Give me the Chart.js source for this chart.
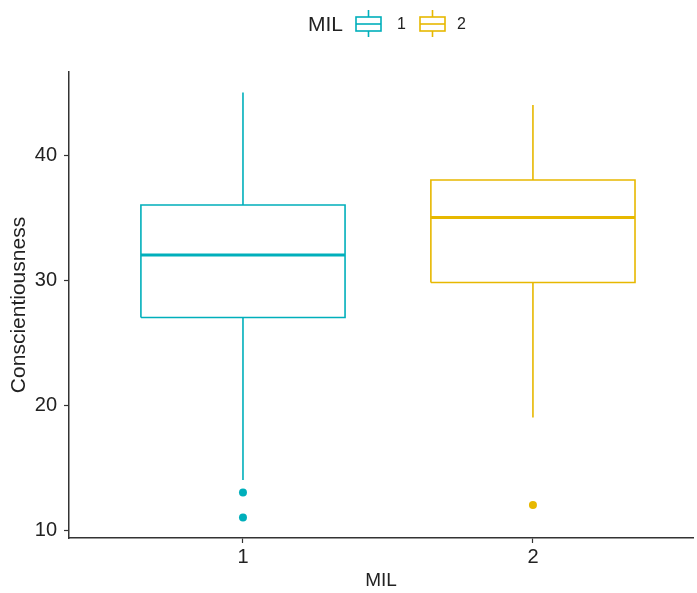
<!DOCTYPE html>
<html>
<head>
<meta charset="utf-8">
<script src="https://cdn.jsdelivr.net/npm/chart.js@4"></script>
<style>
  body { margin: 0; background: #fff; }
  canvas { display: block; }
</style>
</head>
<body>
<canvas id="boxChart" width="697" height="593"></canvas>
<script>
// data
var groups = ['1', '2'];
var groupX = [1, 2];
var lowerWhisker = [14, 19];
var q1 = [27, 29.8];
var median = [32, 35];
var q3 = [36, 38];
var upperWhisker = [45, 44];
var outliers = [[13, 11], [12]];
var yTicks = [10, 20, 30, 40];

var colors = ['#00AFBB', '#E7B800'];
var halfWidth = 0.352;
var fontFamily = '"Liberation Sans", Arial, Helvetica, sans-serif';

// build line datasets for each box
var datasets = [];
groups.forEach(function (g, i) {
    var c = groupX[i];
    var col = colors[i];
    var lineDs = function (pts, width) {
        return {
            data: pts,
            showLine: true,
            borderColor: col,
            borderWidth: width,
            pointRadius: 0,
            fill: false
        };
    };
    // whiskers
    datasets.push(lineDs([{x: c, y: q3[i]}, {x: c, y: upperWhisker[i]}], 1.6));
    datasets.push(lineDs([{x: c, y: lowerWhisker[i]}, {x: c, y: q1[i]}], 1.6));
    // box outline
    datasets.push(lineDs([
        {x: c - halfWidth, y: q1[i]}, {x: c + halfWidth, y: q1[i]},
        {x: c + halfWidth, y: q3[i]}, {x: c - halfWidth, y: q3[i]},
        {x: c - halfWidth, y: q1[i]}
    ], 1.6));
    // median
    datasets.push(lineDs([{x: c - halfWidth, y: median[i]}, {x: c + halfWidth, y: median[i]}], 3));
    // outlier points
    datasets.push({
        data: outliers[i].map(function (v) { return {x: c, y: v}; }),
        showLine: false,
        pointRadius: 4,
        pointBackgroundColor: col,
        pointBorderColor: col,
        pointBorderWidth: 0
    });
});

// legend drawn on top, ggplot style
var legendPlugin = {
    id: 'ggLegend',
    afterDraw: function (chart) {
        var ctx = chart.ctx;
        var cy = 24;
        var left = 308;
        var iconX = [48, 112];
        var labX = [89, 149];
        ctx.save();
        ctx.textBaseline = 'middle';
        ctx.textAlign = 'left';
        ctx.fillStyle = '#222';
        ctx.font = '21px ' + fontFamily;
        ctx.fillText('MIL', left, cy + 1);
        groups.forEach(function (g, i) {
            var x = left + iconX[i];
            ctx.strokeStyle = colors[i];
            ctx.lineWidth = 1.6;
            ctx.beginPath();
            ctx.moveTo(x + 12.5, cy - 14);
            ctx.lineTo(x + 12.5, cy - 7);
            ctx.moveTo(x + 12.5, cy + 7);
            ctx.lineTo(x + 12.5, cy + 13);
            ctx.stroke();
            ctx.strokeRect(x, cy - 7, 25, 14);
            ctx.beginPath();
            ctx.moveTo(x, cy);
            ctx.lineTo(x + 25, cy);
            ctx.stroke();
            ctx.font = '16px ' + fontFamily;
            ctx.fillStyle = '#222';
            ctx.fillText(g, left + labX[i], cy + 1);
        });
        ctx.restore();
    }
};

var ctx = document.getElementById('boxChart').getContext('2d');
var boxChart = new Chart(ctx, {
    type: 'scatter',
    data: { datasets: datasets },
    options: {
        responsive: false,
        animation: false,
        layout: { padding: { top: 72, right: 0, left: 0, bottom: 0 } },
        plugins: {
            legend: { display: false },
            tooltip: { enabled: false }
        },
        scales: {
            x: {
                type: 'linear',
                min: 0.4,
                max: 2.552,
                afterBuildTicks: function (scale) {
                    scale.ticks = groupX.map(function (v) { return {value: v}; });
                },
                afterFit: function (scale) { scale.height = 55; },
                ticks: {
                    color: '#222',
                    font: { size: 20, family: fontFamily },
                    padding: 2,
                    callback: function (v) { return groups[groupX.indexOf(v)]; }
                },
                grid: {
                    drawOnChartArea: false,
                    tickLength: 5,
                    tickColor: '#333',
                    tickWidth: 1.2
                },
                border: { display: true, color: '#333', width: 1.5 },
                title: {
                    display: true,
                    text: 'MIL',
                    color: '#222',
                    font: { size: 19, family: fontFamily },
                    padding: { top: 0, bottom: 1 }
                }
            },
            y: {
                min: 9.36,
                max: 46.64,
                afterBuildTicks: function (scale) {
                    scale.ticks = yTicks.map(function (v) { return {value: v}; });
                },
                afterFit: function (scale) { scale.width = 69; },
                ticks: {
                    color: '#222',
                    font: { size: 20, family: fontFamily },
                    padding: 7
                },
                grid: {
                    drawOnChartArea: false,
                    tickLength: 5,
                    tickColor: '#333',
                    tickWidth: 1.2
                },
                border: { display: true, color: '#333', width: 1.5 },
                title: {
                    display: true,
                    text: 'Conscientiousness',
                    color: '#222',
                    font: { size: 21, family: fontFamily },
                    padding: { top: 7, bottom: 0 }
                }
            }
        }
    },
    plugins: [legendPlugin]
});
</script>
</body>
</html>
